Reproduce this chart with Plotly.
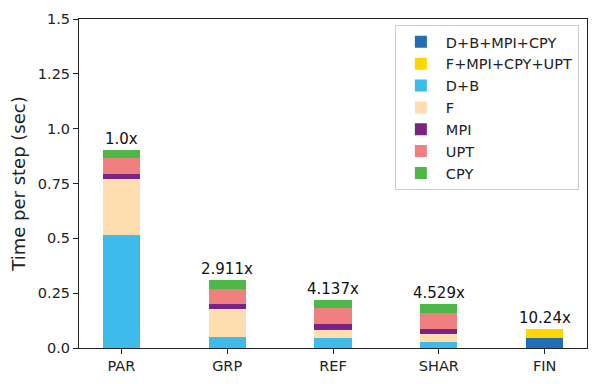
import plotly.graph_objects as go

categories = ["PAR", "GRP", "REF", "SHAR", "FIN"]
series_names = ["D+B+MPI+CPY", "F+MPI+CPY+UPT", "D+B", "F", "MPI", "UPT", "CPY"]
dbmc = [None, None, None, None, 0.047]
fmcu = [None, None, None, None, 0.041]
db = [0.515, 0.050, 0.044, 0.027, None]
f = [0.254, 0.126, 0.038, 0.035, None]
mpi = [0.024, 0.023, 0.027, 0.025, None]
upt = [0.075, 0.070, 0.073, 0.073, None]
cpy = [0.035, 0.041, 0.037, 0.039, None]
speedups = ["1.0x", "2.911x", "4.137x", "4.529x", "10.24x"]
ytick_vals = [0, 0.25, 0.5, 0.75, 1.0, 1.25, 1.5]
ytick_text = ["0.0", "0.25", "0.5", "0.75", "1.0", "1.25", "1.5"]

colors = ["#1f6fb2", "#ffd700", "#3dbbea", "#fedeaf", "#7a2382", "#f08080", "#4db848"]
values = [dbmc, fmcu, db, f, mpi, upt, cpy]

fig = go.Figure()
for name, vals, col in zip(series_names, values, colors):
    fig.add_trace(go.Bar(x=categories, y=vals, name=name, width=0.35,
                         marker=dict(color=col, line=dict(width=0))))

totals = [sum(v[i] or 0 for v in values) for i in range(len(categories))]
for cat, tot, lab in zip(categories, totals, speedups):
    fig.add_annotation(x=cat, y=tot, text=lab, showarrow=False, yanchor="bottom",
                       yshift=0, font=dict(size=15, color="#111"))

# page body has an 8px margin, so the figure is sized to fit the 600x384 window
fig.update_layout(
    barmode="stack",
    width=592, height=376,
    margin=dict(l=71, r=13, t=11, b=36, autoexpand=False),
    plot_bgcolor="white", paper_bgcolor="white",
    font=dict(family="DejaVu Sans", size=14, color="#222"),
    showlegend=True,
    legend=dict(x=0.984, y=0.982, xanchor="right", yanchor="top",
                bordercolor="#cccccc", borderwidth=1, bgcolor="white",
                font=dict(size=14.5), traceorder="normal", tracegroupgap=0,
                itemwidth=40),
)
fig.update_xaxes(range=[-0.4, 4.4], showline=True, linecolor="#222", linewidth=1,
                 mirror=True, ticks="outside", ticklen=5, tickcolor="#222",
                 showgrid=False, tickfont=dict(size=14.5), automargin=False)
fig.update_yaxes(range=[0, 1.5], tickvals=ytick_vals, ticktext=ytick_text,
                 showline=True, linecolor="#222", linewidth=1, mirror=True,
                 ticks="outside", ticklen=5, tickcolor="#222", showgrid=False,
                 zeroline=False, tickfont=dict(size=14.5), automargin=False,
                 title=dict(text="Time per step (sec)", font=dict(size=18), standoff=15))

fig.write_html("out.html")
